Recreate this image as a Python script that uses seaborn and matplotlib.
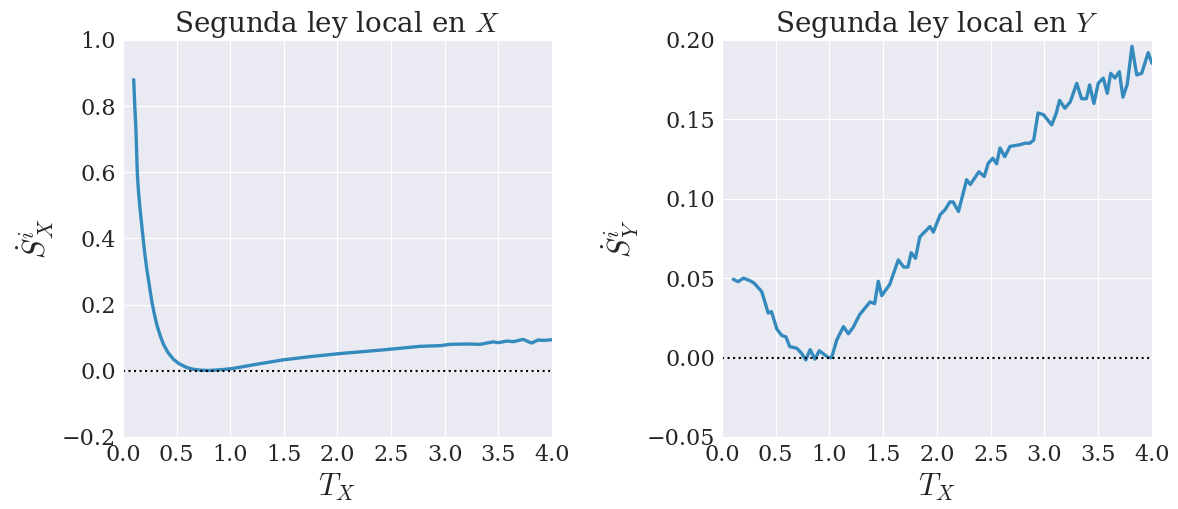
import numpy as np
import pandas as pd
import matplotlib
matplotlib.use("Agg")
import matplotlib.pyplot as plt
from matplotlib.ticker import MultipleLocator
import seaborn as sns

# Segunda ley local en X
tx_x = [0.10, 0.11, 0.12, 0.134, 0.145, 0.158, 0.175, 0.19, 0.205, 0.22, 0.245, 0.268,
        0.29, 0.314, 0.345, 0.376, 0.42, 0.47, 0.52, 0.594, 0.65, 0.718, 0.80,
        0.90, 1.00, 1.075, 1.25, 1.49, 1.75, 2.02, 2.20, 2.40, 2.58, 2.77, 2.96, 3.05, 3.20,
        3.33, 3.45, 3.50, 3.58, 3.64, 3.73, 3.81, 3.87, 3.93, 4.00]
sx = [0.88, 0.80, 0.735, 0.594, 0.54, 0.493, 0.44, 0.393, 0.35, 0.312, 0.26, 0.211,
      0.175, 0.141, 0.108, 0.081, 0.055, 0.035, 0.022, 0.010, 0.005, 0.002, 0.001,
      0.003, 0.006, 0.010, 0.020, 0.033, 0.043, 0.052, 0.057, 0.0625, 0.068, 0.074, 0.076,
      0.080, 0.081, 0.080, 0.0875, 0.085, 0.090, 0.088, 0.095, 0.084, 0.093, 0.092, 0.094]

# Segunda ley local en Y
tx_y = [0.105, 0.15, 0.20, 0.26, 0.30, 0.37, 0.43, 0.46, 0.51, 0.555, 0.595, 0.63, 0.695,
        0.74, 0.78, 0.82, 0.865, 0.905, 0.95, 0.99, 1.02, 1.067, 1.13, 1.175, 1.22, 1.28,
        1.377, 1.42, 1.454, 1.486, 1.56, 1.64, 1.69, 1.73, 1.76, 1.80, 1.84, 1.935, 1.966,
        2.03, 2.074, 2.12, 2.15, 2.20, 2.276, 2.31, 2.39, 2.44, 2.477, 2.52, 2.555, 2.586,
        2.63, 2.68, 2.77, 2.82, 2.865, 2.90, 2.94, 2.99, 3.067, 3.11, 3.14, 3.19, 3.24, 3.30,
        3.345, 3.39, 3.42, 3.46, 3.50, 3.547, 3.584, 3.616, 3.655, 3.696, 3.73, 3.77, 3.814,
        3.858, 3.904, 3.965, 4.00]
sy = [0.0493, 0.0478, 0.050, 0.0484, 0.0468, 0.0415, 0.028, 0.029, 0.018, 0.014, 0.013,
      0.0069, 0.0059, 0.0027, -0.0015, 0.005, -0.001, 0.0043, 0.002, 0.0, 0.0, 0.011, 0.0195,
      0.015, 0.019, 0.027, 0.035, 0.034, 0.048, 0.039, 0.046, 0.0615, 0.057, 0.057, 0.066,
      0.0625, 0.076, 0.0825, 0.079, 0.090, 0.093, 0.098, 0.098, 0.092, 0.112, 0.109, 0.117,
      0.114, 0.1224, 0.1255, 0.122, 0.132, 0.1265, 0.133, 0.134, 0.135, 0.135, 0.137, 0.154,
      0.153, 0.1465, 0.154, 0.162, 0.157, 0.161, 0.1727, 0.163, 0.163, 0.1717, 0.160, 0.1727,
      0.176, 0.1664, 0.179, 0.176, 0.180, 0.164, 0.172, 0.196, 0.178, 0.179, 0.192, 0.1853]

sns.set_style("darkgrid")
plt.rcParams['font.family'] = ['DejaVu Serif']
plt.rcParams['mathtext.fontset'] = 'cm'

color = '#348ABD'
fig = plt.figure(figsize=(11.78, 5.09), dpi=100)
ax1 = fig.add_axes([0.1044, 0.1415, 0.3642, 0.78])
ax2 = fig.add_axes([0.6129, 0.1415, 0.365, 0.78])

sns.lineplot(x=tx_x, y=sx, ax=ax1, color=color, lw=2.4)
ax1.axhline(0, color='black', ls=':', lw=1.5)
ax1.set_xlim(0, 4)
ax1.set_ylim(-0.2, 1.0)
ax1.set_title('Segunda ley local en $X$', fontsize=20)
ax1.set_xlabel('$T_X$', fontsize=22)
ax1.set_ylabel('$\\dot{S}^i_X$', fontsize=22)

sns.lineplot(x=tx_y, y=sy, ax=ax2, color=color, lw=2.4)
ax2.axhline(0, color='black', ls=':', lw=1.5)
ax2.set_xlim(0, 4)
ax2.set_ylim(-0.05, 0.20)
ax2.set_title('Segunda ley local en $Y$', fontsize=20)
ax2.set_xlabel('$T_X$', fontsize=22)
ax2.set_ylabel('$\\dot{S}^i_Y$', fontsize=22)

for ax in (ax1, ax2):
    ax.xaxis.set_major_locator(MultipleLocator(0.5))
    ax.tick_params(labelsize=16, length=0, pad=5)

fig.savefig('out.png', dpi=100)
